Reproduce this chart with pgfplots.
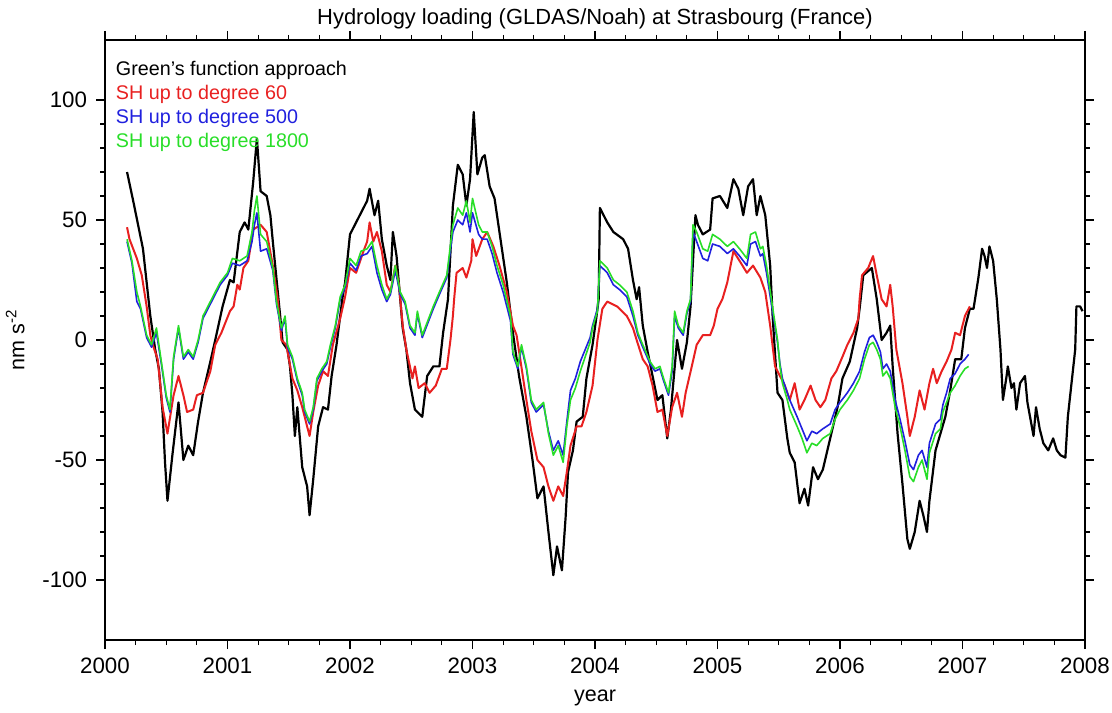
\documentclass[border=0pt]{standalone}
\usepackage{fontspec}
\setmainfont{Liberation Sans}
\usepackage{pgfplots}
\pgfplotsset{compat=1.18}
\usepackage{pgfplotstable}

\definecolor{cRed}{RGB}{232,32,32}
\definecolor{cBlue}{RGB}{32,32,222}
\definecolor{cGreen}{RGB}{40,222,40}

% Green's function approach
\pgfplotstableread{
t v
2000.18 70
2000.23 58
2000.31 38
2000.37 10
2000.41 -4
2000.44 -12
2000.47 -30
2000.49 -51
2000.51 -67
2000.55 -48
2000.60 -26
2000.64 -50
2000.68 -44
2000.72 -48
2000.76 -34
2000.80 -22
2000.86 -9
2000.90 0
2000.96 14
2001.02 25
2001.05 24
2001.10 45
2001.14 49
2001.17 46
2001.21 66
2001.24 84
2001.27 62
2001.32 60
2001.35 52
2001.37 41
2001.43 10
2001.45 -1
2001.49 -4
2001.51 -11
2001.53 -23
2001.55 -40
2001.57 -28
2001.61 -53
2001.65 -61
2001.67 -73
2001.70 -58
2001.74 -36
2001.78 -28
2001.82 -29
2001.85 -15
2001.89 -2
2001.94 18
2001.96 24
2002.00 44
2002.08 52
2002.14 58
2002.16 63
2002.20 52
2002.23 58
2002.26 42
2002.30 31
2002.33 25
2002.35 45
2002.38 35
2002.41 17
2002.43 5
2002.46 -4
2002.49 -18
2002.53 -29
2002.59 -32
2002.63 -15
2002.68 -11
2002.73 -11
2002.76 3
2002.80 17
2002.84 56
2002.88 73
2002.92 69
2002.95 56
2002.98 67
2003.01 95
2003.04 69
2003.08 76
2003.10 77
2003.14 64
2003.18 59
2003.22 45
2003.28 24
2003.33 3
2003.38 -15
2003.44 -32
2003.49 -50
2003.53 -66
2003.58 -61
2003.62 -80
2003.66 -98
2003.69 -86
2003.73 -96
2003.76 -74
2003.78 -55
2003.82 -46
2003.85 -34
2003.90 -32
2003.93 -16
2003.98 -2
2004.01 9
2004.03 17
2004.04 55
2004.10 49
2004.15 45
2004.23 42
2004.27 38
2004.31 25
2004.34 17
2004.36 22
2004.39 6
2004.43 -5
2004.47 -15
2004.51 -25
2004.55 -23
2004.59 -41
2004.62 -29
2004.67 0
2004.71 -12
2004.75 -1
2004.78 14
2004.82 52
2004.84 48
2004.88 44
2004.94 46
2004.96 59
2005.02 60
2005.08 55
2005.13 67
2005.17 63
2005.21 52
2005.25 64
2005.29 67
2005.32 52
2005.35 60
2005.39 52
2005.43 31
2005.45 10
2005.49 -22
2005.53 -25
2005.57 -41
2005.59 -47
2005.63 -51
2005.67 -68
2005.71 -62
2005.74 -69
2005.78 -53
2005.82 -58
2005.86 -54
2005.92 -41
2005.98 -28
2006.02 -16
2006.08 -9
2006.14 5
2006.16 13
2006.19 27
2006.26 30
2006.30 17
2006.34 0
2006.38 3
2006.41 6
2006.43 -11
2006.47 -39
2006.51 -60
2006.55 -83
2006.57 -87
2006.61 -80
2006.65 -67
2006.68 -73
2006.71 -80
2006.73 -67
2006.78 -46
2006.82 -39
2006.86 -32
2006.90 -21
2006.94 -8
2006.99 -8
2007.02 5
2007.06 13
2007.09 13
2007.13 26
2007.16 38
2007.18 35
2007.20 30
2007.22 39
2007.25 33
2007.28 17
2007.31 -4
2007.33 -25
2007.36 -15
2007.37 -11
2007.40 -20
2007.42 -18
2007.44 -29
2007.47 -18
2007.51 -15
2007.53 -26
2007.58 -40
2007.60 -28
2007.63 -37
2007.66 -43
2007.70 -46
2007.74 -41
2007.77 -46
2007.80 -48
2007.84 -49
2007.86 -32
2007.89 -18
2007.92 -4
2007.93 14
2007.96 14
2007.98 12
}\green

% SH up to degree 60
\pgfplotstableread{
t v
2000.18 47
2000.20 42
2000.26 34
2000.30 27
2000.34 14
2000.37 2
2000.39 -2
2000.43 -8
2000.47 -28
2000.51 -39
2000.56 -23
2000.60 -15
2000.64 -23
2000.67 -30
2000.72 -29
2000.75 -23
2000.80 -22
2000.86 -13
2000.90 -2
2000.95 3
2001.02 12
2001.05 14
2001.08 23
2001.10 21
2001.13 30
2001.17 33
2001.21 46
2001.27 48
2001.32 45
2001.37 31
2001.41 17
2001.44 0
2001.48 -2
2001.53 -16
2001.57 -21
2001.61 -28
2001.65 -36
2001.67 -40
2001.70 -30
2001.74 -19
2001.78 -13
2001.82 -15
2001.86 -2
2001.92 9
2001.96 18
2002.00 30
2002.05 28
2002.11 37
2002.14 41
2002.16 49
2002.19 41
2002.22 45
2002.26 37
2002.30 23
2002.33 20
2002.37 31
2002.40 23
2002.43 6
2002.46 -4
2002.51 -16
2002.53 -11
2002.56 -20
2002.61 -18
2002.65 -22
2002.70 -19
2002.75 -12
2002.79 -12
2002.82 0
2002.84 10
2002.85 17
2002.87 28
2002.92 30
2002.95 26
2002.99 33
2003.00 42
2003.03 35
2003.08 42
2003.12 45
2003.17 39
2003.22 31
2003.28 20
2003.33 6
2003.36 2
2003.39 -8
2003.44 -25
2003.48 -38
2003.53 -50
2003.58 -53
2003.62 -61
2003.66 -67
2003.70 -61
2003.74 -65
2003.77 -55
2003.80 -44
2003.85 -36
2003.89 -36
2003.93 -30
2003.98 -19
2004.02 0
2004.06 13
2004.10 16
2004.18 14
2004.26 10
2004.31 5
2004.34 0
2004.39 -8
2004.43 -11
2004.47 -19
2004.51 -30
2004.55 -29
2004.59 -40
2004.63 -28
2004.67 -22
2004.71 -32
2004.74 -22
2004.79 -11
2004.83 -2
2004.88 2
2004.94 2
2004.97 6
2005.00 13
2005.04 17
2005.08 24
2005.13 37
2005.18 33
2005.24 28
2005.29 31
2005.35 26
2005.39 20
2005.43 6
2005.47 -11
2005.51 -15
2005.55 -19
2005.59 -25
2005.63 -18
2005.67 -29
2005.71 -25
2005.76 -19
2005.80 -25
2005.84 -28
2005.88 -25
2005.93 -16
2005.97 -13
2006.02 -7
2006.06 -2
2006.11 3
2006.15 9
2006.16 17
2006.18 27
2006.23 30
2006.27 35
2006.30 27
2006.34 17
2006.38 14
2006.41 23
2006.43 14
2006.46 -4
2006.51 -18
2006.55 -32
2006.57 -40
2006.61 -32
2006.65 -21
2006.69 -29
2006.73 -18
2006.76 -12
2006.79 -18
2006.83 -13
2006.87 -9
2006.91 -4
2006.94 3
2006.98 2
2007.02 10
2007.06 14
}\shsixty

% SH up to degree 500
\pgfplotstableread{
t v
2000.18 41
2000.22 32
2000.26 16
2000.29 13
2000.34 1
2000.38 -3
2000.42 3
2000.46 -10
2000.50 -24
2000.53 -30
2000.56 -8
2000.60 5
2000.64 -8
2000.68 -5
2000.72 -8
2000.76 -1
2000.80 9
2000.86 15
2000.91 20
2000.94 23
2001.00 27
2001.04 32
2001.10 31
2001.16 33
2001.20 41
2001.22 48
2001.24 53
2001.27 37
2001.32 38
2001.37 29
2001.40 15
2001.44 4
2001.47 9
2001.49 -3
2001.53 -8
2001.57 -17
2001.61 -23
2001.63 -30
2001.67 -35
2001.70 -29
2001.73 -17
2001.77 -13
2001.81 -10
2001.84 -3
2001.88 5
2001.92 17
2001.96 22
2002.00 32
2002.05 29
2002.09 35
2002.14 36
2002.18 39
2002.22 28
2002.26 21
2002.30 16
2002.33 19
2002.37 29
2002.41 19
2002.45 15
2002.49 5
2002.53 2
2002.55 11
2002.59 1
2002.65 9
2002.68 13
2002.73 19
2002.79 26
2002.84 45
2002.88 50
2002.92 48
2002.95 53
2002.98 45
2003.00 53
2003.05 44
2003.08 42
2003.12 42
2003.16 36
2003.20 28
2003.25 20
2003.31 8
2003.33 -6
2003.37 -12
2003.40 -3
2003.44 -12
2003.48 -26
2003.52 -30
2003.58 -27
2003.62 -38
2003.66 -46
2003.70 -42
2003.74 -48
2003.77 -34
2003.80 -21
2003.84 -16
2003.88 -9
2003.92 -4
2003.96 1
2003.98 6
2004.02 13
2004.04 31
2004.10 28
2004.15 23
2004.20 21
2004.26 18
2004.31 10
2004.35 2
2004.39 -3
2004.45 -10
2004.49 -13
2004.53 -12
2004.56 -17
2004.60 -23
2004.63 -13
2004.65 10
2004.68 5
2004.72 2
2004.75 11
2004.78 16
2004.80 45
2004.83 41
2004.88 34
2004.92 33
2004.96 40
2005.02 39
2005.08 36
2005.13 38
2005.18 35
2005.24 31
2005.27 40
2005.31 41
2005.35 35
2005.37 36
2005.40 28
2005.44 15
2005.49 -1
2005.51 -10
2005.53 -16
2005.57 -22
2005.59 -25
2005.65 -32
2005.69 -37
2005.73 -42
2005.77 -38
2005.81 -39
2005.86 -37
2005.92 -35
2005.96 -29
2006.00 -26
2006.06 -22
2006.11 -18
2006.16 -13
2006.20 -5
2006.24 1
2006.27 2
2006.30 -1
2006.33 -5
2006.35 -12
2006.38 -10
2006.41 -13
2006.45 -25
2006.49 -33
2006.53 -42
2006.57 -52
2006.60 -54
2006.64 -48
2006.67 -46
2006.71 -53
2006.73 -43
2006.78 -35
2006.82 -33
2006.84 -27
2006.87 -22
2006.90 -16
2006.94 -14
2006.98 -10
2007.02 -8
2007.05 -6
}\shfivehundred

% SH up to degree 1800
\pgfplotstableread{
t v
2000.18 42
2000.22 33
2000.26 20
2000.29 14
2000.34 2
2000.38 -2
2000.42 5
2000.46 -9
2000.50 -23
2000.53 -29
2000.56 -7
2000.60 6
2000.64 -7
2000.68 -4
2000.72 -7
2000.76 0
2000.80 10
2000.86 16
2000.91 21
2000.94 24
2001.00 28
2001.04 34
2001.10 33
2001.16 35
2001.20 45
2001.22 54
2001.24 60
2001.27 44
2001.32 41
2001.37 30
2001.40 16
2001.44 5
2001.47 10
2001.49 -2
2001.53 -7
2001.57 -16
2001.61 -22
2001.63 -29
2001.67 -34
2001.70 -28
2001.73 -16
2001.77 -12
2001.81 -9
2001.84 -2
2001.88 6
2001.92 18
2001.96 23
2002.00 34
2002.05 31
2002.09 37
2002.14 38
2002.18 41
2002.22 31
2002.26 23
2002.30 17
2002.33 20
2002.37 31
2002.41 20
2002.45 16
2002.49 6
2002.53 3
2002.55 12
2002.59 2
2002.65 10
2002.68 14
2002.73 20
2002.79 27
2002.84 48
2002.88 55
2002.92 52
2002.95 58
2002.98 49
2003.00 59
2003.05 48
2003.08 45
2003.12 45
2003.16 39
2003.20 31
2003.25 23
2003.31 10
2003.33 -5
2003.37 -11
2003.40 -2
2003.44 -11
2003.48 -25
2003.52 -29
2003.58 -26
2003.62 -39
2003.66 -48
2003.70 -44
2003.74 -51
2003.77 -36
2003.80 -25
2003.84 -20
2003.88 -13
2003.92 -7
2003.96 -1
2003.98 5
2004.02 12
2004.04 33
2004.10 30
2004.15 25
2004.20 23
2004.26 20
2004.31 12
2004.35 3
2004.39 -2
2004.45 -9
2004.49 -12
2004.53 -11
2004.56 -16
2004.60 -22
2004.63 -11
2004.65 12
2004.68 6
2004.72 3
2004.75 12
2004.78 17
2004.80 48
2004.83 45
2004.88 38
2004.92 37
2004.96 44
2005.02 42
2005.08 39
2005.13 41
2005.18 38
2005.24 34
2005.27 44
2005.31 45
2005.35 38
2005.37 39
2005.40 31
2005.44 17
2005.49 0
2005.51 -11
2005.53 -18
2005.57 -25
2005.59 -29
2005.65 -36
2005.69 -41
2005.73 -47
2005.77 -43
2005.81 -44
2005.86 -41
2005.92 -39
2005.96 -33
2006.00 -29
2006.06 -25
2006.11 -21
2006.16 -16
2006.20 -8
2006.24 -2
2006.27 -1
2006.30 -4
2006.33 -8
2006.35 -15
2006.38 -13
2006.41 -16
2006.45 -28
2006.49 -36
2006.53 -46
2006.57 -57
2006.60 -59
2006.64 -53
2006.67 -50
2006.71 -58
2006.73 -47
2006.78 -39
2006.82 -37
2006.84 -30
2006.87 -26
2006.90 -22
2006.94 -19
2006.98 -15
2007.02 -12
2007.05 -11
}\sheighteen

\begin{document}
\begin{tikzpicture}
\begin{axis}[
  at={(0,0)}, anchor=south west,
  scale only axis, width=490bp, height=300bp,
  xmin=2000, xmax=2008, ymin=-125, ymax=125,
  xtick={2000,2001,2002,2003,2004,2005,2006,2007,2008},
  xticklabels={2000,2001,2002,2003,2004,2005,2006,2007,2008},
  ytick={-100,-50,0,50,100},
  yticklabels={-100,-50,0,50,100},
  minor x tick num=3, minor y tick num=4,
  tick align=outside, xtick pos=both, ytick pos=both,
  xticklabel pos=lower, yticklabel pos=left,
  major tick length=4.5bp, minor tick length=2.5bp,
  every tick/.style={black, line width=0.6bp},
  axis line style={line width=1bp},
  ticklabel style={font=\fontsize{11.2}{13}\selectfont},
  xticklabel style={yshift=-1bp},
  yticklabel style={xshift=-1bp},
  title={Hydrology loading (GLDAS/Noah) at Strasbourg (France)},
  title style={font=\fontsize{11}{13}\selectfont, yshift=-4bp},
  xlabel={year},
  ylabel={nm s\textsuperscript{-2}},
  label style={font=\fontsize{10.8}{13}\selectfont},
  xlabel style={yshift=-1bp},
  ylabel style={yshift=2bp},
  clip=true,
  line join=round,
]
\addplot[black, line width=1.1bp] table[x=t, y=v] {\green};
\addplot[cRed, line width=1bp] table[x=t, y=v] {\shsixty};
\addplot[cBlue, line width=0.8bp] table[x=t, y=v] {\shfivehundred};
\addplot[cGreen, line width=0.8bp] table[x=t, y=v] {\sheighteen};
\node[anchor=west, font=\fontsize{9.9}{12}\selectfont, text=black] at (rel axis cs:0.004,0.950) {Green’s function approach};
\node[anchor=west, font=\fontsize{9.9}{12}\selectfont, text=cRed] at (rel axis cs:0.004,0.910) {SH up to degree 60};
\node[anchor=west, font=\fontsize{9.9}{12}\selectfont, text=cBlue] at (rel axis cs:0.004,0.870) {SH up to degree 500};
\node[anchor=west, font=\fontsize{9.9}{12}\selectfont, text=cGreen] at (rel axis cs:0.004,0.830) {SH up to degree 1800};
\end{axis}
\pgfresetboundingbox
\useasboundingbox (-52.5bp,-36.5bp) rectangle (503.5bp,320bp);
\end{tikzpicture}
\end{document}
